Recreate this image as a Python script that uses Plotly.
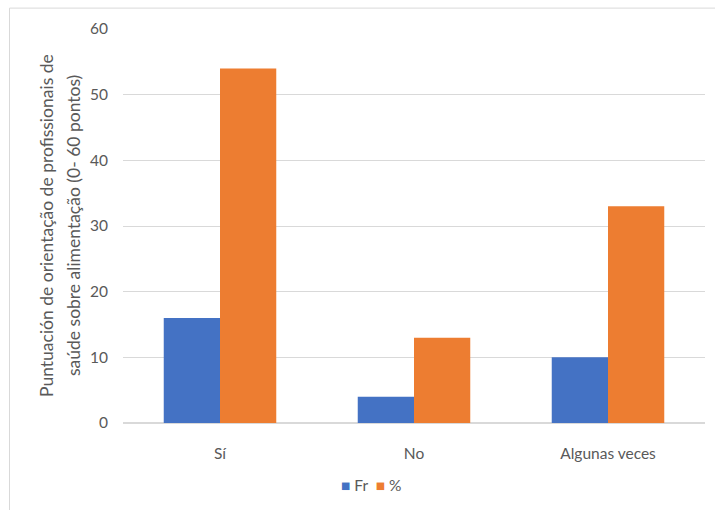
import plotly.graph_objects as go

categories = ["Sí", "No", "Algunas veces"]
fr_values = [16, 4, 10]
pct_values = [54, 13, 33]
y_ticks = [0, 10, 20, 30, 40, 50, 60]
series_names = ["Fr", "%"]
series_colors = ["#4472c4", "#ed7d31"]
title_lines = ["Puntuación de orientação de profissionais de",
               "saúde sobre alimentação (0- 60 pontos)"]

FONT = "Lato, 'Open Sans', sans-serif"
TEXT = "#595959"
GRID = "#d9d9d9"

fig = go.Figure()
for name, vals, color in zip(series_names, [fr_values, pct_values], series_colors):
    fig.add_trace(go.Bar(name=name, x=categories, y=vals, marker_color=color,
                         marker_line_width=0))

# chart-area outline
fig.add_shape(type="rect", xref="paper", yref="paper",
              x0=-0.195, x1=1.03, y0=-0.3, y1=1.053,
              line=dict(color="#d9d9d9", width=1), fillcolor="rgba(0,0,0,0)", layer="below")

# rotated two-line axis title
for line, xp in zip(title_lines, [46, 73]):
    fig.add_annotation(text=line, xref="paper", yref="paper",
                       x=(xp - 123) / 582, y=0.5, textangle=-90, showarrow=False,
                       xanchor="center", yanchor="middle",
                       font=dict(size=17.5, color=TEXT, family=FONT))

# legend row
legend_text = "  ".join(
    f"<span style='color:{c}'>■</span> {n}" for n, c in zip(series_names, series_colors))
fig.add_annotation(text=legend_text, xref="paper", yref="paper",
                   x=(371 - 123) / 582, y=(423 - 485) / 394, showarrow=False,
                   xanchor="center", yanchor="middle",
                   font=dict(size=15.5, color=TEXT, family=FONT))

fig.update_layout(
    width=715, height=510,
    margin=dict(l=123, r=10, t=29, b=87),
    paper_bgcolor="white", plot_bgcolor="white",
    barmode="group", bargap=0.42, bargroupgap=0,
    font=dict(family=FONT, color=TEXT, size=15.5),
    showlegend=False,
    xaxis=dict(showgrid=False, showline=False, ticks="", ticklabelstandoff=19,
               tickfont=dict(size=15.5, color=TEXT)),
    yaxis=dict(range=[0, 60], tickvals=y_ticks, showgrid=True, gridcolor=GRID, gridwidth=1,
               zeroline=True, zerolinecolor=GRID, zerolinewidth=1.5,
               showline=False, ticks="", ticklabelstandoff=14,
               tickfont=dict(size=15.5, color=TEXT)),
)

fig.write_html("out.html")
